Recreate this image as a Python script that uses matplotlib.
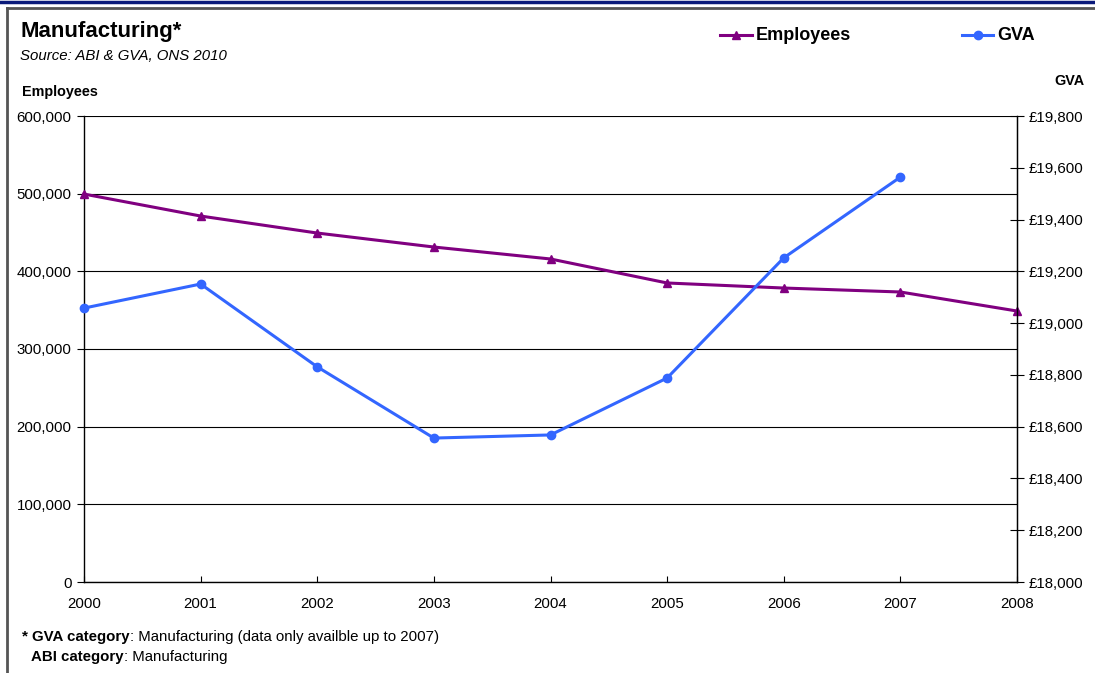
import matplotlib.pyplot as plt
from matplotlib.lines import Line2D
from matplotlib.ticker import FuncFormatter, MultipleLocator

plt.rcParams["font.family"] = ["Liberation Sans", "DejaVu Sans"]

years = [2000, 2001, 2002, 2003, 2004, 2005, 2006, 2007, 2008]
employees = [499500, 471200, 449300, 431300, 415900, 385000, 378500, 373400, 348900]
gva_years = [2000, 2001, 2002, 2003, 2004, 2005, 2006, 2007]
gva = [19058, 19151, 18831, 18556, 18568, 18788, 19252, 19564]

EMP_COLOR = "#800080"
GVA_COLOR = "#3366FF"

W, H = 1095, 673
fig = plt.figure(figsize=(W / 100, H / 100), dpi=100)
ax = fig.add_axes([84 / W, 1 - 582 / H, 933 / W, 466 / H])
ax2 = ax.twinx()


def fx(px):
    return px / W


def fy(py):
    return 1 - py / H


# employees on the left axis
ax.plot(years, employees, color=EMP_COLOR, lw=2.2, marker="^", ms=6,
        clip_on=False, zorder=3)
ax.set_xlim(2000, 2008)
ax.set_ylim(0, 600000)
ax.yaxis.set_major_locator(MultipleLocator(100000))
ax.yaxis.set_major_formatter(FuncFormatter(lambda v, _: f"{int(v):,}"))
ax.set_xticks(years)
ax.grid(axis="y", color="black", lw=0.8)
ax.set_axisbelow(True)
ax.tick_params(axis="y", direction="out", length=5, width=0.8, labelsize=10.8, pad=4)
ax.tick_params(axis="x", direction="in", length=4, width=0.8, labelsize=10.8, pad=11)
for side in ["left", "bottom"]:
    ax.spines[side].set_linewidth(1.0)
ax.spines["top"].set_visible(False)

# GVA on the right axis
ax2.plot(gva_years, gva, color=GVA_COLOR, lw=2.2, marker="o", ms=6,
         clip_on=False, zorder=3)
ax2.set_ylim(18000, 19800)
ax2.yaxis.set_major_locator(MultipleLocator(200))
ax2.yaxis.set_major_formatter(FuncFormatter(lambda v, _: f"£{int(v):,}"))
ax2.tick_params(axis="y", direction="inout", length=10, width=0.8, labelsize=10.8, pad=3)
ax2.spines["right"].set_linewidth(1.0)
for side in ["top", "left", "bottom"]:
    ax2.spines[side].set_visible(False)

# titles
fig.text(fx(20), fy(31), "Manufacturing*", fontsize=16, fontweight="bold",
         va="center", ha="left")
fig.text(fx(20), fy(56), "Source: ABI & GVA, ONS 2010", fontsize=10.8,
         style="italic", va="center", ha="left")
fig.text(fx(22), fy(92), "Employees", fontsize=10.4, fontweight="bold",
         va="center", ha="left")
fig.text(fx(1069), fy(81), "GVA", fontsize=10.4, fontweight="bold",
         va="center", ha="center")

# legend entries laid out by hand
def legend_entry(x0, x1, color, marker, label):
    fig.add_artist(Line2D([fx(x0), fx(x1)], [fy(35)] * 2, color=color, lw=2.2,
                          transform=fig.transFigure))
    fig.add_artist(Line2D([fx((x0 + x1) / 2)], [fy(35)], color=color, marker=marker,
                          ms=6, transform=fig.transFigure))
    fig.text(fx(x1 + 4), fy(35), label, fontsize=13, fontweight="bold",
             va="center", ha="left")


legend_entry(720, 752, EMP_COLOR, "^", "Employees")
legend_entry(962, 993, GVA_COLOR, "o", "GVA")


# footnote with bold category names
def note(x, y, bold, rest):
    t = fig.text(fx(x), fy(y), bold, fontsize=10.8, fontweight="bold",
                 va="center", ha="left")
    fig.canvas.draw()
    bb = t.get_window_extent()
    fig.text(bb.x1 / fig.bbox.width, fy(y), rest, fontsize=10.8,
             va="center", ha="left")


note(22, 637, "* GVA category", ": Manufacturing (data only availble up to 2007)")
note(31, 657, "ABI category", ": Manufacturing")

# page frame
fig.add_artist(Line2D([0, 1], [fy(1.5)] * 2, color="#0A1A7A", lw=2.5,
                      transform=fig.transFigure))
fig.add_artist(Line2D([fx(7), 1], [fy(7.5)] * 2, color="#555555", lw=2,
                      transform=fig.transFigure))
fig.add_artist(Line2D([fx(7)] * 2, [0, fy(7.5)], color="#555555", lw=2,
                      transform=fig.transFigure))

fig.savefig("out.png", dpi=100)
